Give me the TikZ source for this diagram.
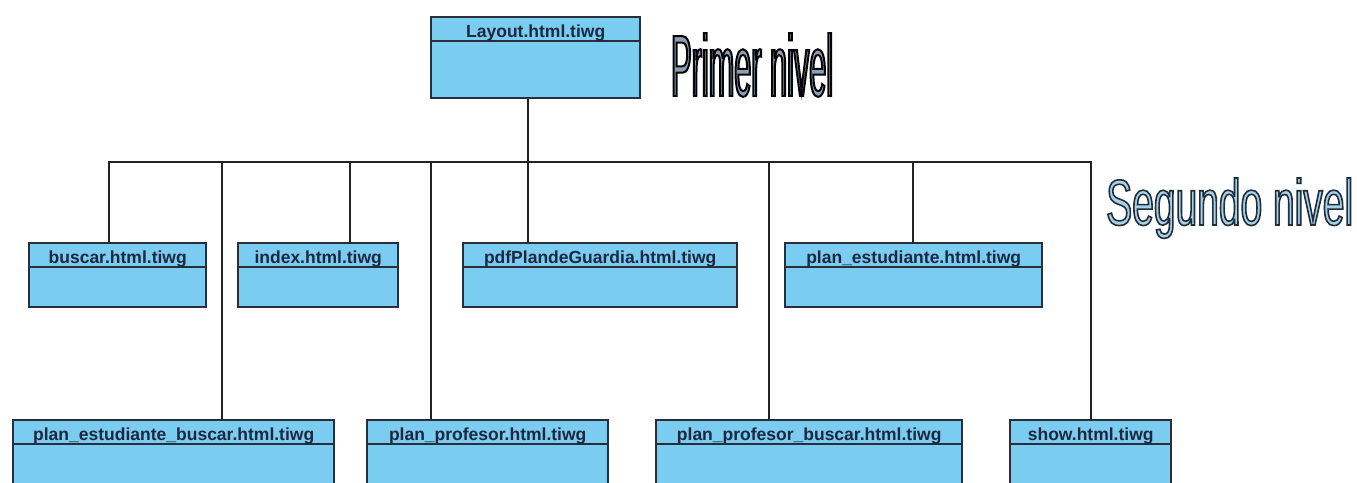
\documentclass[tikz,border=0pt]{standalone}
\usepackage{fontspec}
\setmainfont{Liberation Sans}
\newfontfamily\primerfont[FakeStretch=0.349]{Liberation Sans}
\newfontfamily\segundofont[FakeStretch=0.594]{Liberation Sans}
\usepackage{graphicx}
\definecolor{clsfill}{HTML}{7ACCF0}
\definecolor{clsline}{HTML}{2A2E3A}
\definecolor{clstext}{HTML}{1C2740}
\definecolor{wireline}{HTML}{222222}
\newcommand\outlinetext[4]{{\special{pdf:literal direct 2 Tr #3 w #2 RG #1 rg}#4\special{pdf:literal direct 0 Tr}}}
\tikzset{
  clsbox/.style={draw=clsline, fill=clsfill, line width=1.2pt, inner sep=0pt},
  clshead/.style={draw=clsline, line width=1.2pt},
  clslabel/.style={font=\bfseries\fontsize{17.5}{20}\selectfont, text=clstext, anchor=base, inner sep=0pt},
  wire/.style={draw=wireline, line width=1.1pt},
}
\newcommand\umlclass[6]{% name, x1, y1, x2, y2, text
  \path[clsbox] (#2,#3) rectangle (#4,#5);
  \node[inner sep=0pt, minimum width={#4pt-#2pt}, minimum height={#5pt-#3pt}, anchor=north west] (#1) at (#2,#3) {};
  \draw[clshead] ($(#1.north west)+(0,24)$) -- ($(#1.north east)+(0,24)$);
  \node[clslabel] (#1-label) at ($(#1.north)+(0,20.5)$) {#6};
}
\usetikzlibrary{calc}
\begin{document}
\begin{tikzpicture}[x=1pt, y=-1pt]
\useasboundingbox (0,0) rectangle (1357,482);
\clip (0,0) rectangle (1357,482);
\fill[white] (0,0) rectangle (1357,482);

% classes
\umlclass{layout}{431}{17}{640}{98}{Layout.html.tiwg}
\umlclass{buscar}{29}{243}{206}{307}{buscar.html.tiwg}
\umlclass{index}{238}{243}{398}{307}{index.html.tiwg}
\umlclass{pdf}{463}{243}{737}{307}{pdfPlandeGuardia.html.tiwg}
\umlclass{planest}{785}{243}{1042}{307}{plan\_estudiante.html.tiwg}
\umlclass{pebuscar}{13}{420}{334}{500}{plan\_estudiante\_buscar.html.tiwg}
\umlclass{planprof}{367}{420}{608}{500}{plan\_profesor.html.tiwg}
\umlclass{ppbuscar}{656}{420}{962}{500}{plan\_profesor\_buscar.html.tiwg}
\umlclass{show}{1010}{420}{1171}{500}{show.html.tiwg}

% attach points
\coordinate (layout-out) at (528,98);
\coordinate (j) at (528,162);
\coordinate (buscar-in) at (109,243);
\coordinate (index-in) at (350,243);
\coordinate (pdf-in) at (528,243);
\coordinate (planest-in) at (913,243);
\coordinate (pebuscar-in) at (222,420);
\coordinate (planprof-in) at (431,420);
\coordinate (ppbuscar-in) at (769,420);
\coordinate (show-in) at (1091,420);

% connectors
\draw[wire] (layout-out) -- (j);
\foreach \c in {buscar,index,pdf,planest,pebuscar,planprof,ppbuscar,show}
  \draw[wire] (j) -| (\c-in);

% level labels
\node[anchor=base west, inner sep=0pt] (primer) at (671,96)
  {\resizebox{162pt}{63pt}{\primerfont\fontsize{88}{90}\selectfont\outlinetext{0.55 0.62 0.70}{0.02 0.02 0.04}{2}{Primer nivel}}};
\node[anchor=base west, inner sep=0pt] (segundo) at (1106,225)
  {\resizebox{247pt}{47pt}{\segundofont\fontsize{65.6}{68}\selectfont\outlinetext{0.66 0.82 0.90}{0.12 0.18 0.24}{1.6}{Segundo nivel}}};
\end{tikzpicture}
\end{document}
